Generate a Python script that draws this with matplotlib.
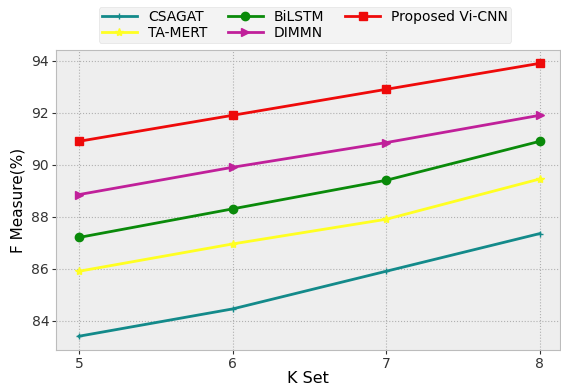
import matplotlib
matplotlib.use("Agg")
import matplotlib.pyplot as plt

plt.style.use("bmh")

k_set = [5, 6, 7, 8]
csagat = [83.4, 84.45, 85.9, 87.35]
ta_mert = [85.9, 86.95, 87.9, 89.45]
bilstm = [87.2, 88.3, 89.4, 90.9]
dimmn = [88.85, 89.9, 90.85, 91.9]
vi_cnn = [90.9, 91.9, 92.9, 93.9]

fig = plt.figure(figsize=(5.61, 3.85), dpi=100)
fig.patch.set_facecolor("white")
ax = fig.add_axes([0.1, 0.091, 0.898, 0.779])
ax.set_facecolor("#eeeeee")

ax.plot(k_set, csagat, color="#138a8a", marker="+", ms=4, lw=2, label="CSAGAT")
ax.plot(k_set, ta_mert, color="#ffff22", marker="*", ms=6, lw=2, label="TA-MERT")
ax.plot(k_set, bilstm, color="#0a8a0a", marker="o", ms=6, lw=2, label="BiLSTM")
ax.plot(k_set, dimmn, color="#c0209a", marker=">", ms=6, lw=2, label="DIMMN")
ax.plot(k_set, vi_cnn, color="#ee0a0a", marker="s", ms=6, lw=2, label="Proposed Vi-CNN")

ax.set_xlim(4.85, 8.13)
ax.set_ylim(82.87, 94.41)
ax.set_xticks(k_set)
ax.set_yticks([84, 86, 88, 90, 92, 94])
ax.grid(True, linestyle=":", color="#b0b0b0", linewidth=0.8)
ax.tick_params(labelsize=10, colors="#333333", direction="out", length=3, pad=2)
ax.set_xlabel("K Set", fontsize=11.5, labelpad=0)
ax.set_ylabel("F Measure(%)", fontsize=11, labelpad=4)
for sp in ax.spines.values():
    sp.set_color("#bcbcbc")

ax.legend(loc="lower center", bbox_to_anchor=(0.494, 1.0), ncol=3, fontsize=10,
          frameon=True, facecolor="#f0f0f0", edgecolor="#dddddd",
          columnspacing=1.5, handlelength=2.5, borderpad=0.25, labelspacing=0.1)

fig.savefig("out.png", dpi=100, facecolor="white")
